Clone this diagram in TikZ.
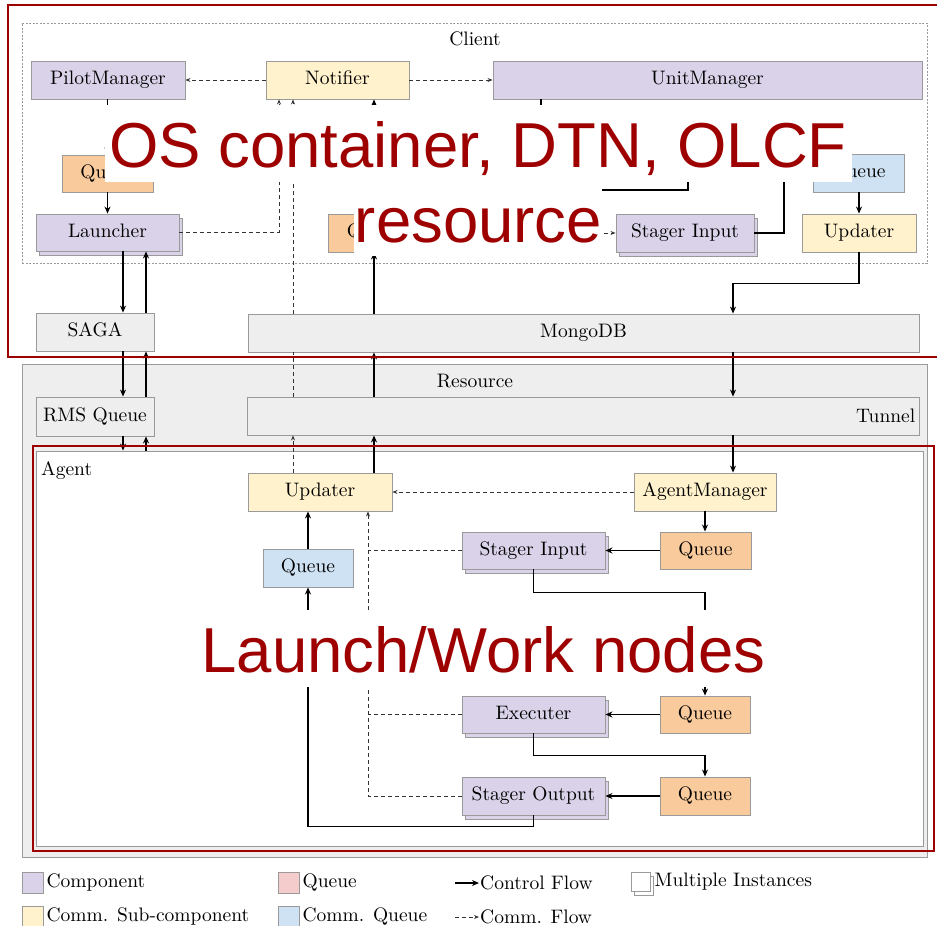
\documentclass[tikz,border=0pt]{standalone}
\usepackage{fontspec}
\setmainfont{lmroman10-regular.otf}
\newfontfamily\annofont{Liberation Sans}
\usetikzlibrary{arrows.meta,shadows,calc}
\definecolor{compfill}{HTML}{D9D2E9}
\definecolor{subfill}{HTML}{FFF2CC}
\definecolor{quefill}{HTML}{F9CB9C}
\definecolor{quelegend}{HTML}{F4CCCC}
\definecolor{cquefill}{HTML}{CFE2F3}
\definecolor{boxgray}{HTML}{EEEEEE}
\definecolor{edgegray}{HTML}{9A9A9A}
\definecolor{annored}{HTML}{9E0000}
\begin{document}
\begin{tikzpicture}[x=1pt,y=-1pt,
  font=\fontsize{19.5}{23}\selectfont,
  box/.style={draw=edgegray, line width=0.9pt, inner sep=0pt, align=center,
              text height=13.5pt, text depth=4.5pt},
  compbox/.style={box, fill=compfill},
  subbox/.style={box, fill=subfill},
  quebox/.style={box, fill=quefill},
  cquebox/.style={box, fill=cquefill},
  graybox/.style={box, fill=boxgray},
  multi/.style={copy shadow={shadow xshift=3.5pt, shadow yshift=-4pt}},
  ctrl/.style={line width=1.4pt, -{Stealth[length=7pt,width=6pt]}},
  ctrlline/.style={line width=1.4pt},
  comm/.style={line width=0.9pt, draw=black!80, dash pattern=on 4pt off 3pt,
               -{Stealth[length=5pt,width=4pt]}},
  commline/.style={line width=0.9pt, draw=black!80, dash pattern=on 4pt off 3pt},
  anno/.style={font=\annofont\fontsize{63.5}{70}\selectfont, text=annored,
               inner sep=0pt},
  annoframe/.style={draw=annored, line width=2pt}
]
\useasboundingbox (0,0) rectangle (937,926);
\begin{scope}
\clip (0,0) rectangle (937,926);

% ---------- column helpers ----------
\coordinate (c107) at (107.5,0);
\coordinate (c123) at (123,0);
\coordinate (c146) at (146,0);
\coordinate (c279) at (279,0);
\coordinate (c293) at (293,0);
\coordinate (c368) at (368,0);
\coordinate (c374) at (374,0);
\coordinate (c705) at (705,0);
\coordinate (c733) at (733,0);
\coordinate (c859) at (859,0);

% ---------- containers ----------
\node[draw=edgegray, line width=0.6pt, dash pattern=on 2pt off 1.5pt,
      minimum width=905, minimum height=240, inner sep=0pt] (client) at (474.5,143) {};
\node[anchor=base] (clientlbl) at (475,45) {Client};

\node[graybox, minimum width=905, minimum height=493] (resource) at (474.5,610.5) {};
\node[anchor=base] (resourcelbl) at (475,387) {Resource};
\node[box, fill=white, minimum width=887, minimum height=395] (agent) at (479.5,648.5) {};
\node[anchor=base west, inner sep=0pt] (agentlbl) at (41,475) {Agent};

% ---------- client side ----------
\node[compbox, minimum width=154, minimum height=38] (pm) at (108,80) {PilotManager};
\node[subbox, minimum width=143, minimum height=38] (notif) at (337.5,80) {Notifier};
\node[compbox, minimum width=429, minimum height=38] (um) at (707.5,80) {UnitManager};
\node[quebox, minimum width=91, minimum height=37] (qp) at (107.5,173.5) {Queue};
\node[compbox, multi, minimum width=143, minimum height=37] (lau) at (107.5,232.5) {Launcher};
\node[quebox, minimum width=92, minimum height=38] (qc) at (374,233) {Queue};
\node[compbox, multi, minimum width=138, minimum height=38] (sic) at (685,233) {Stager Input};
\node[cquebox, minimum width=91, minimum height=38] (qb) at (858.5,173) {Queue};
\node[subbox, minimum width=114, minimum height=38] (updc) at (859,233) {Updater};

\node[graybox, minimum width=118, minimum height=38] (saga) at (95,332) {SAGA};
\node[graybox, minimum width=671, minimum height=38] (mongo) at (583.5,333) {MongoDB};

% ---------- resource side ----------
\node[graybox, minimum width=118, minimum height=39] (rms) at (95,416.5) {RMS Queue};
\node[graybox, minimum width=672, minimum height=38] (tunnel) at (583,416) {};
\node[anchor=east, inner sep=4pt] (tunnellbl) at (tunnel.east) {Tunnel};

\node[subbox, minimum width=144, minimum height=38] (upda) at (320,492) {Updater};
\node[subbox, minimum width=142, minimum height=38] (am) at (705,492) {AgentManager};
\node[quebox, minimum width=91, minimum height=37] (qa1) at (705.5,550.5) {Queue};
\node[compbox, multi, minimum width=143, minimum height=37] (sia) at (533.5,550.5) {Stager Input};
\node[cquebox, minimum width=90, minimum height=38] (qba) at (308,568) {Queue};
\node[compbox, multi, minimum width=143, minimum height=37] (exe) at (533.5,714.5) {Executer};
\node[quebox, minimum width=90, minimum height=37] (qa2) at (705,714.5) {Queue};
\node[compbox, multi, minimum width=143, minimum height=38] (so) at (533.5,796) {Stager Output};
\node[quebox, minimum width=90, minimum height=38] (qa3) at (705,796) {Queue};

% ---------- client connectors ----------
\draw[comm] (notif) -- (pm);
\draw[comm] (notif) -- (um);
\draw[ctrl] (pm.south -| c107) -- (qp.north -| c107);
\draw[ctrl] (qp.south -| c107) -- (lau.north -| c107);
\draw[comm] (lau.east) -| (notif.south -| c279);
\draw[comm] (mongo.north -| c293) -- (notif.south -| c293);
\draw[ctrl] (qc.north) -- (notif.south -| qc.north);
\draw[ctrl] (mongo.north -| qc.south) -- (qc.south);
\draw[ctrl] (qb.south -| c859) -- (updc.north -| c859);
\draw[ctrl] (updc.south) -- ++(0,31) -| (mongo.north -| c733);

\coordinate (hida) at (784,140);
\coordinate (hidb) at (590,190);
\coordinate (hidc) at (688,140);
\coordinate (hidd) at (590,233);
\coordinate (hide) at (541,140);
\draw[ctrlline] (sic.east) -| (hida);
\draw[ctrlline] (hidb) -| (hidc);
\draw[comm] (hidd) -- (sic.west);
\draw[ctrlline] (um.south -| hide) -- (hide);

% ---------- client / resource links ----------
\draw[ctrl] (lau.south -| c123) -- (saga.north -| c123);
\draw[ctrl] (saga.north -| c146) -- (lau.south -| c146);
\draw[ctrl] (saga.south -| c123) -- (rms.north -| c123);
\draw[ctrl] (rms.north -| c146) -- (saga.south -| c146);
\draw[ctrl] (rms.south -| c123) -- (agent.north -| c123);
\draw[ctrl] (agent.north -| c146) -- (rms.south -| c146);
\draw[commline] (tunnel.north -| c293) -- (mongo.south -| c293);
\draw[comm] (upda.north -| c293) -- (tunnel.south -| c293);
\draw[ctrl] (tunnel.north -| c374) -- (mongo.south -| c374);
\draw[ctrl] (upda.north -| c374) -- (tunnel.south -| c374);
\draw[ctrl] (mongo.south -| c733) -- (tunnel.north -| c733);
\draw[ctrl] (tunnel.south -| c733) -- (am.north -| c733);

% ---------- agent connectors ----------
\draw[comm] (am) -- (upda);
\draw[ctrl] (am.south -| c705) -- (qa1.north -| c705);
\draw[ctrl] (qa1) -- (sia);
\draw[ctrl] (sia.south) -- ++(0,23) -| (qa2.north);
\draw[commline] (sia.west) -- (sia.west -| c368);
\draw[commline] (exe.west) -- (exe.west -| c368);
\draw[comm] (so.west) -| (upda.south -| c368);
\draw[ctrl] (qa2) -- (exe);
\draw[ctrl] (exe.south) -- ++(0,22) -| (qa3.north);
\draw[ctrl] (qa3) -- (so);
\draw[ctrl] (so.south) -- ++(0,11) -| (qba.south);
\draw[ctrl] (qba.north) -- (upda.south -| qba.north);

% ---------- legend ----------
\node[compbox, minimum width=21, minimum height=21, text height=0pt, text depth=0pt] (lga) at (32.5,882.5) {};
\node[anchor=west, inner sep=3pt] (lgat) at (lga.east) {Component};
\node[box, fill=quelegend, minimum width=21, minimum height=21, text height=0pt, text depth=0pt] (lgb) at (288.5,882.5) {};
\node[anchor=west, inner sep=3pt] (lgbt) at (lgb.east) {Queue};
\coordinate (lgc1) at (455,883);
\coordinate (lgc2) at (479,883);
\draw[ctrl, line width=1.1pt] (lgc1) -- (lgc2);
\node[anchor=west, inner sep=1pt] (lgct) at (lgc2) {Control Flow};
\node[box, fill=white, multi, minimum width=19, minimum height=19, text height=0pt, text depth=0pt] (lgd) at (640.5,881.5) {};
\node[anchor=west, inner sep=4pt] (lgdt) at (lgd.east) {Multiple Instances};

\node[subbox, minimum width=21, minimum height=21, text height=0pt, text depth=0pt] (lge) at (32.5,916.5) {};
\node[anchor=west, inner sep=3pt] (lget) at (lge.east) {Comm. Sub-component};
\node[cquebox, minimum width=21, minimum height=21, text height=0pt, text depth=0pt] (lgf) at (288.5,916.5) {};
\node[anchor=west, inner sep=3pt] (lgft) at (lgf.east) {Comm. Queue};
\coordinate (lgg1) at (455,917);
\coordinate (lgg2) at (479,917);
\draw[comm] (lgg1) -- (lgg2);
\node[anchor=west, inner sep=1pt] (lggt) at (lgg2) {Comm. Flow};

% ---------- annotation frames and labels ----------
\draw[annoframe] (8,5) rectangle (950,357);
\draw[annoframe] (33,446) rectangle (934,851);
\fill[white] (105,105) rectangle (852,182);
\fill[white] (354,182) rectangle (602,256);
\fill[white] (199,610) rectangle (768,687);
\node[anno, anchor=base] (annoa) at (478,167) {OS container, DTN, OLCF};
\node[anno, anchor=base] (annob) at (478.5,242) {resource};
\node[anno, anchor=base] (annoc) at (483.5,672) {Launch/Work nodes};
\end{scope}
\end{tikzpicture}
\end{document}
